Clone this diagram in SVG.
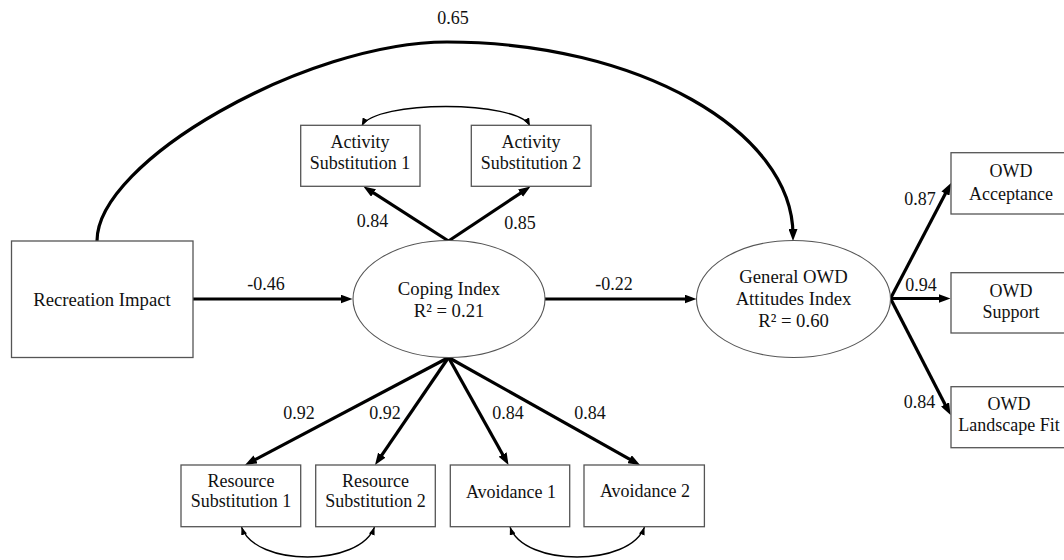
<svg xmlns="http://www.w3.org/2000/svg" width="1064" height="560" viewBox="0 0 1064 560">
<defs>
<marker id="ah" markerUnits="userSpaceOnUse" markerWidth="12" markerHeight="9" refX="6" refY="4.5" orient="auto"><path d="M0,0 L12,4.5 L0,9 z" fill="#000"/></marker>
<marker id="sh" markerUnits="userSpaceOnUse" markerWidth="8" markerHeight="6" refX="8" refY="3" orient="auto-start-reverse"><path d="M0,0 L8,3 L0,6 z" fill="#000"/></marker>
<style>
.box{fill:#fff;stroke:#555;stroke-width:1.3}
.ell{fill:#fff;stroke:#555;stroke-width:1.1}
text{font-family:"Liberation Serif","Times New Roman",serif;font-size:18px;fill:#111;text-anchor:middle}
.big{font-size:18.7px}
.thick{fill:none;stroke:#000;stroke-width:3.2;marker-end:url(#ah)}
.thin{fill:none;stroke:#000;stroke-width:1.4;marker-start:url(#sh);marker-end:url(#sh)}
</style>
</defs>
<rect width="1064" height="560" fill="#fff"/>
<g id="connectors">
<path class="thick" d="M97,241 C97,161 307,42 447,42 C638,42 793,131 793,235"/>
<path class="thick" d="M193,299 L346.5,299"/>
<path class="thick" d="M545,299 L690.5,299"/>
<path class="thick" d="M448.5,241 L368.5,189.7"/>
<path class="thick" d="M448.5,241 L525.5,189.8"/>
<path class="thick" d="M448.5,357.5 L250.3,462.2"/>
<path class="thick" d="M448.5,357.5 L378.4,460.1"/>
<path class="thick" d="M448.5,357.5 L505.6,459.8"/>
<path class="thick" d="M448.5,357.5 L634.8,462.1"/>
<path class="thick" d="M890.5,298.5 L948.2,188.3"/>
<path class="thick" d="M890.5,298.5 L944.5,298.5"/>
<path class="thick" d="M890.5,298.5 L947.8,409.7"/>
<path class="thin" d="M361.7,126 C375,100 517,100 530,126"/>
<path class="thin" d="M241.5,527 C255,567 360,567 374.5,527"/>
<path class="thin" d="M510,527 C524,567 630,567 644.5,527"/>
</g>
<g id="edge-labels">
<text x="453" y="24">0.65</text>
<text x="266" y="290">-0.46</text>
<text x="614" y="290">-0.22</text>
<text x="372.5" y="227">0.84</text>
<text x="520" y="229">0.85</text>
<text x="299" y="419">0.92</text>
<text x="385" y="419">0.92</text>
<text x="508" y="419">0.84</text>
<text x="590" y="419">0.84</text>
<text x="920" y="205">0.87</text>
<text x="921" y="291">0.94</text>
<text x="919.5" y="408">0.84</text>
</g>
<g id="recreation-impact"><rect class="box" x="11.5" y="241" width="181.5" height="116.5"/><text class="big" x="102" y="306">Recreation Impact</text></g>
<g id="coping-index"><ellipse class="ell" cx="449" cy="299" rx="96" ry="58.5"/><text class="big" x="449" y="295">Coping Index</text><text class="big" x="449" y="317">R² = 0.21</text></g>
<g id="general-owd"><ellipse class="ell" cx="793.5" cy="299" rx="97" ry="58.5"/><text class="big" x="793.5" y="283">General OWD</text><text class="big" x="793.5" y="305">Attitudes Index</text><text class="big" x="793.5" y="327">R² = 0.60</text></g>
<g id="activity-sub-1"><rect class="box" x="300.7" y="125.3" width="119.3" height="61"/><text x="360" y="148.3">Activity</text><text x="360" y="169.3">Substitution 1</text></g>
<g id="activity-sub-2"><rect class="box" x="471.3" y="125.3" width="119.7" height="61"/><text x="531" y="148.3">Activity</text><text x="531" y="169.3">Substitution 2</text></g>
<g id="resource-sub-1"><rect class="box" x="181" y="465" width="119.7" height="61.7"/><text x="241" y="486.7">Resource</text><text x="241" y="507.3">Substitution 1</text></g>
<g id="resource-sub-2"><rect class="box" x="315.7" y="465" width="119.6" height="61.7"/><text x="375.5" y="486.7">Resource</text><text x="375.5" y="507.3">Substitution 2</text></g>
<g id="avoidance-1"><rect class="box" x="450.3" y="465" width="119.4" height="61.7"/><text x="511" y="498">Avoidance 1</text></g>
<g id="avoidance-2"><rect class="box" x="584" y="465" width="120.4" height="61.7"/><text x="645" y="497">Avoidance 2</text></g>
<g id="owd-acceptance"><rect class="box" x="951" y="152.7" width="120" height="61.3"/><text x="1011" y="176.7">OWD</text><text x="1011" y="200">Acceptance</text></g>
<g id="owd-support"><rect class="box" x="951" y="272.7" width="120" height="60.3"/><text x="1011" y="296.7">OWD</text><text x="1011" y="318.3">Support</text></g>
<g id="owd-landscape-fit"><rect class="box" x="951" y="386.7" width="120" height="61"/><text x="1009" y="410">OWD</text><text x="1009" y="431">Landscape Fit</text></g>
</svg>
